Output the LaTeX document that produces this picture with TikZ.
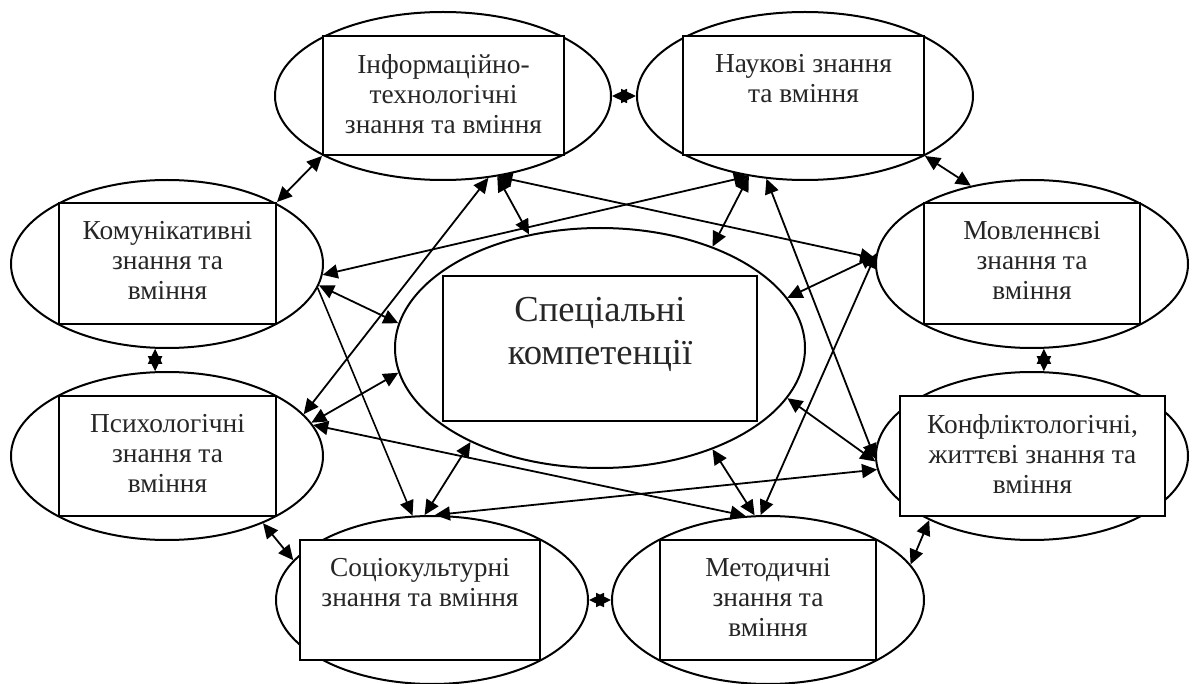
\documentclass[tikz,border=0pt]{standalone}
\usepackage{fontspec}
\setmainfont{Liberation Serif}
\usetikzlibrary{calc,shapes.geometric,arrows.meta}

\tikzset{
	oval/.style={draw, ellipse, line width=1pt, inner sep=0pt},
	rbox/.style={draw, fill=white, line width=1pt, inner sep=0pt},
	txt/.style={align=center, anchor=north, inner sep=0pt, text=black!85,
		font=\fontsize{13.7}{15}\selectfont},
	bigtxt/.style={txt, font=\fontsize{18.3}{21.5}\selectfont},
	link/.style={{Triangle[length=7.5pt,width=7pt]}-{Triangle[length=7.5pt,width=7pt]}, line width=0.9pt},
	halflink/.style={-{Triangle[length=7.5pt,width=7pt]}, line width=0.8pt},
}

\begin{document}
\begin{tikzpicture}[x=0.5pt,y=-0.5pt]
	\useasboundingbox (0,0) rectangle (1195,684);

	% ellipses
	\node[oval, minimum width=168pt, minimum height=84pt] (infoE) at (443,96) {};
	\node[oval, minimum width=168pt, minimum height=84pt] (naukE) at (805,96) {};
	\node[oval, minimum width=156pt, minimum height=84pt] (komE) at (167,264) {};
	\node[oval, minimum width=156pt, minimum height=84pt] (movE) at (1032,264) {};
	\node[oval, minimum width=156pt, minimum height=84pt] (psyE) at (167,456) {};
	\node[oval, minimum width=156pt, minimum height=84pt] (konE) at (1032,456) {};
	\node[oval, minimum width=156pt, minimum height=84pt] (socE) at (432,600) {};
	\node[oval, minimum width=156pt, minimum height=84pt] (metE) at (768,600) {};
	\node[oval, minimum width=205pt, minimum height=120pt] (centE) at (600,348) {};

	% boxes
	\node[rbox, minimum width=120.5pt, minimum height=59.5pt] (infoR) at (443.5,95.5) {};
	\node[rbox, minimum width=120.5pt, minimum height=59.5pt] (naukR) at (803.5,95.5) {};
	\node[rbox, minimum width=108.5pt, minimum height=60.5pt] (komR) at (167.5,263.5) {};
	\node[rbox, minimum width=108pt, minimum height=60.5pt] (movR) at (1032,263.5) {};
	\node[rbox, minimum width=108.5pt, minimum height=60pt] (psyR) at (167.5,456) {};
	\node[rbox, minimum width=132.5pt, minimum height=60pt] (konR) at (1032.5,456) {};
	\node[rbox, minimum width=120pt, minimum height=60pt] (socR) at (420,600) {};
	\node[rbox, minimum width=108pt, minimum height=60pt] (metR) at (768,600) {};
	\node[rbox, minimum width=157pt, minimum height=72.5pt] (centR) at (600,348.5) {};

	\node[txt] (infoT) at ($(infoR.north)+(0,19)$) {Інформаційно-\\технологічні\\знання та вміння};
	\node[txt] (naukT) at ($(naukR.north)+(0,19)$) {Наукові знання\\та вміння};
	\node[txt] (komT) at ($(komR.north)+(0,19)$) {Комунікативні\\знання та\\вміння};
	\node[txt] (movT) at ($(movR.north)+(0,19)$) {Мовленнєві\\знання та\\вміння};
	\node[txt] (psyT) at ($(psyR.north)+(0,19)$) {Психологічні\\знання та\\вміння};
	\node[txt] (konT) at ($(konR.north)+(0,19)$) {Конфліктологічні,\\життєві знання та\\вміння};
	\node[txt] (socT) at ($(socR.north)+(0,19)$) {Соціокультурні\\знання та вміння};
	\node[txt] (metT) at ($(metR.north)+(0,19)$) {Методичні\\знання та\\вміння};
	\node[bigtxt] (centT) at ($(centR.north)+(0,22)$) {Спеціальні\\компетенції};

	% neighbours
	\draw[link] (infoE.east) -- (naukE.west);
	\draw[link] (infoR.south west) -- (komR.north east);
	\draw[link] (naukR.south east) -- (movE.128);
	\draw[link] (komE.262) -- (psyE.98);
	\draw[link] (movE.278) -- (konE.82);
	\draw[link] (psyE.-35) -- (socE.164);
	\draw[link] (socE.east) -- (metE.west);
	\draw[link] (metE.14) -- (konE.212);

	% across
	\draw[link] (infoE.-61) -- (psyE.17);
	\draw[link] (infoE.-56) -- (movE.178);
	\draw[link] (infoE.-56) -- (centE.122);
	\draw[link] (komE.-4) -- (naukE.235);
	\draw[link] (naukE.235) -- (centE.42);
	\draw[link] (naukE.245) -- (konE.181);
	\draw[link] (movE.177) -- (centE.15);
	\draw[link] (movE.176) -- (metE.95);
	\draw[link] (komE.-8) -- (centE.173);
	\draw[halflink] (komE.-9) -- (socE.103);
	\draw[link] (psyE.13) -- (centE.187);
	\draw[link] (psyE.12) -- (metE.105);
	\draw[link] (socE.95) -- (centE.216);
	\draw[link] (socE.88) -- (konE.185);
	\draw[link] (metE.99) -- (centE.-42);
	\draw[link] (konE.182) -- (centE.-15);

\end{tikzpicture}
\end{document}
